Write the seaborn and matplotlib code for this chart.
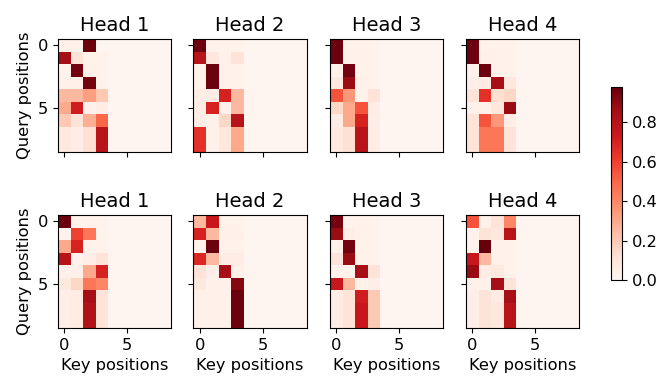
import numpy as np
import pandas as pd
import matplotlib
matplotlib.use("Agg")
import matplotlib.pyplot as plt
import seaborn as sns
from matplotlib.cm import ScalarMappable
from matplotlib.colors import Normalize

# Attention weights: rows = query positions (0-8), columns = key positions (0-8)
layer1_head1 = [
    [0.03, 0.03, 0.97, 0, 0, 0, 0, 0, 0],
    [0.85, 0.10, 0.02, 0.02, 0, 0, 0, 0, 0],
    [0.02, 0.95, 0.03, 0.02, 0, 0, 0, 0, 0],
    [0.03, 0.03, 0.95, 0.02, 0, 0, 0, 0, 0],
    [0.25, 0.25, 0.33, 0.20, 0, 0, 0, 0, 0],
    [0.30, 0.72, 0.03, 0.05, 0, 0, 0, 0, 0],
    [0.20, 0.10, 0.28, 0.50, 0, 0, 0, 0, 0],
    [0.07, 0.05, 0.12, 0.80, 0, 0, 0, 0, 0],
    [0.07, 0.05, 0.12, 0.80, 0, 0, 0, 0, 0],
]
layer1_head2 = [
    [0.97, 0.02, 0.02, 0.02, 0, 0, 0, 0, 0],
    [0.80, 0.08, 0.03, 0.10, 0, 0, 0, 0, 0],
    [0.02, 0.97, 0.02, 0.02, 0, 0, 0, 0, 0],
    [0.02, 0.97, 0.02, 0.02, 0, 0, 0, 0, 0],
    [0.05, 0.05, 0.70, 0.25, 0, 0, 0, 0, 0],
    [0.05, 0.70, 0.02, 0.25, 0, 0, 0, 0, 0],
    [0.05, 0.03, 0.15, 0.80, 0, 0, 0, 0, 0],
    [0.65, 0.03, 0.08, 0.30, 0, 0, 0, 0, 0],
    [0.65, 0.03, 0.08, 0.30, 0, 0, 0, 0, 0],
]
layer1_head3 = [
    [0.97, 0.02, 0.02, 0.02, 0, 0, 0, 0, 0],
    [0.97, 0.02, 0.02, 0.02, 0, 0, 0, 0, 0],
    [0.03, 0.95, 0.02, 0.02, 0, 0, 0, 0, 0],
    [0.08, 0.88, 0.03, 0.02, 0, 0, 0, 0, 0],
    [0.55, 0.35, 0.02, 0.10, 0, 0, 0, 0, 0],
    [0.15, 0.30, 0.55, 0.05, 0, 0, 0, 0, 0],
    [0.05, 0.30, 0.70, 0.04, 0, 0, 0, 0, 0],
    [0.07, 0.12, 0.80, 0.05, 0, 0, 0, 0, 0],
    [0.07, 0.12, 0.80, 0.05, 0, 0, 0, 0, 0],
]
layer1_head4 = [
    [0.97, 0.02, 0.02, 0.02, 0, 0, 0, 0, 0],
    [0.97, 0.03, 0.02, 0.02, 0, 0, 0, 0, 0],
    [0.03, 0.97, 0.02, 0.02, 0, 0, 0, 0, 0],
    [0.04, 0.06, 0.85, 0.08, 0, 0, 0, 0, 0],
    [0.10, 0.65, 0.12, 0.15, 0, 0, 0, 0, 0],
    [0.03, 0.03, 0.08, 0.88, 0, 0, 0, 0, 0],
    [0.10, 0.55, 0.35, 0.04, 0, 0, 0, 0, 0],
    [0.10, 0.45, 0.45, 0.10, 0, 0, 0, 0, 0],
    [0.10, 0.45, 0.45, 0.10, 0, 0, 0, 0, 0],
]
layer2_head1 = [
    [0.97, 0.02, 0.02, 0.02, 0, 0, 0, 0, 0],
    [0.02, 0.60, 0.45, 0.02, 0, 0, 0, 0, 0],
    [0.30, 0.70, 0.02, 0.02, 0, 0, 0, 0, 0],
    [0.80, 0.02, 0.04, 0.10, 0, 0, 0, 0, 0],
    [0.03, 0.03, 0.30, 0.70, 0, 0, 0, 0, 0],
    [0.07, 0.15, 0.45, 0.40, 0, 0, 0, 0, 0],
    [0.04, 0.06, 0.85, 0.10, 0, 0, 0, 0, 0],
    [0.04, 0.06, 0.82, 0.10, 0, 0, 0, 0, 0],
    [0.04, 0.06, 0.82, 0.10, 0, 0, 0, 0, 0],
]
layer2_head2 = [
    [0.25, 0.75, 0.02, 0.02, 0, 0, 0, 0, 0],
    [0.70, 0.25, 0.03, 0.03, 0, 0, 0, 0, 0],
    [0.02, 0.97, 0.02, 0.02, 0, 0, 0, 0, 0],
    [0.68, 0.25, 0.05, 0.05, 0, 0, 0, 0, 0],
    [0.10, 0.04, 0.85, 0.03, 0, 0, 0, 0, 0],
    [0.07, 0.03, 0.03, 0.92, 0, 0, 0, 0, 0],
    [0.03, 0.03, 0.03, 0.97, 0, 0, 0, 0, 0],
    [0.03, 0.03, 0.03, 0.97, 0, 0, 0, 0, 0],
    [0.03, 0.03, 0.03, 0.97, 0, 0, 0, 0, 0],
]
layer2_head3 = [
    [0.95, 0.02, 0.02, 0.02, 0, 0, 0, 0, 0],
    [0.88, 0.04, 0.02, 0.02, 0, 0, 0, 0, 0],
    [0.03, 0.95, 0.02, 0.02, 0, 0, 0, 0, 0],
    [0.10, 0.88, 0.02, 0.02, 0, 0, 0, 0, 0],
    [0.02, 0.02, 0.85, 0.10, 0, 0, 0, 0, 0],
    [0.75, 0.25, 0.02, 0.04, 0, 0, 0, 0, 0],
    [0.05, 0.10, 0.72, 0.20, 0, 0, 0, 0, 0],
    [0.05, 0.10, 0.75, 0.20, 0, 0, 0, 0, 0],
    [0.05, 0.10, 0.75, 0.20, 0, 0, 0, 0, 0],
]
layer2_head4 = [
    [0.55, 0.03, 0.10, 0.40, 0, 0, 0, 0, 0],
    [0.02, 0.10, 0.08, 0.80, 0, 0, 0, 0, 0],
    [0.02, 0.98, 0.02, 0.02, 0, 0, 0, 0, 0],
    [0.75, 0.25, 0.02, 0.02, 0, 0, 0, 0, 0],
    [0.88, 0.05, 0.07, 0.02, 0, 0, 0, 0, 0],
    [0.03, 0.03, 0.85, 0.10, 0, 0, 0, 0, 0],
    [0.04, 0.10, 0.06, 0.85, 0, 0, 0, 0, 0],
    [0.04, 0.10, 0.08, 0.80, 0, 0, 0, 0, 0],
    [0.04, 0.10, 0.08, 0.80, 0, 0, 0, 0, 0],
]

layers = [
    [layer1_head1, layer1_head2, layer1_head3, layer1_head4],
    [layer2_head1, layer2_head2, layer2_head3, layer2_head4],
]
titles = ["Head 1", "Head 2", "Head 3", "Head 4"]
xlabel = "Key positions"
ylabel = "Query positions"
tick_labels = ["0", "5"]
cbar_ticks = [0.0, 0.2, 0.4, 0.6, 0.8]

sns.set_style("white")
plt.rcParams["font.family"] = ["DejaVu Sans"]
plt.rcParams["text.color"] = "black"
plt.rcParams["axes.labelcolor"] = "black"
plt.rcParams["xtick.color"] = "black"
plt.rcParams["ytick.color"] = "black"

W, H = 666, 386
fig = plt.figure(figsize=(W / 100, H / 100), dpi=100)

lefts = [58, 193.5, 330, 466]
tops = [39, 215]
size = 113

vmax = 0.98
cmap = "Reds"
fs_label = 11.7
fs_title = 14

for r, heads in enumerate(layers):
    for c, mat in enumerate(heads):
        ax = fig.add_axes([lefts[c] / W, (H - tops[r] - size) / H, size / W, size / H])
        df = pd.DataFrame(mat)
        sns.heatmap(df, ax=ax, cmap=cmap, vmin=0, vmax=vmax, cbar=False,
                    square=False, xticklabels=False, yticklabels=False)
        for sp in ax.spines.values():
            sp.set_visible(True)
            sp.set_color("black")
            sp.set_linewidth(0.8)
        ax.set_xticks([0.5, 5.5])
        ax.set_yticks([0.5, 5.5])
        ax.tick_params(axis="both", which="major", length=3.5, width=0.8,
                       bottom=True, left=True, labelsize=fs_label, color="black",
                       labelcolor="black")
        if r == 1:
            ax.set_xticklabels(tick_labels, rotation=0)
            ax.set_xlabel(xlabel, fontsize=fs_label, color="black")
        else:
            ax.set_xticklabels([])
            ax.set_xlabel("")
        if c == 0:
            ax.set_yticklabels(tick_labels, rotation=0)
            ax.set_ylabel(ylabel, fontsize=fs_label, color="black")
        else:
            ax.set_yticklabels([])
            ax.set_ylabel("")
        ax.set_title(titles[c], fontsize=fs_title, color="black")

cax = fig.add_axes([611 / W, (H - 280) / H, 11 / W, 193 / H])
sm = ScalarMappable(norm=Normalize(vmin=0, vmax=vmax), cmap=cmap)
cb = fig.colorbar(sm, cax=cax)
cb.set_ticks(cbar_ticks)
cb.set_ticklabels([f"{t:.1f}" for t in cbar_ticks])
cb.ax.tick_params(labelsize=fs_label, length=3.5, width=0.8, color="black",
                  labelcolor="black")
cb.outline.set_linewidth(0.8)
cb.outline.set_edgecolor("black")

fig.savefig("out.png", dpi=100)
